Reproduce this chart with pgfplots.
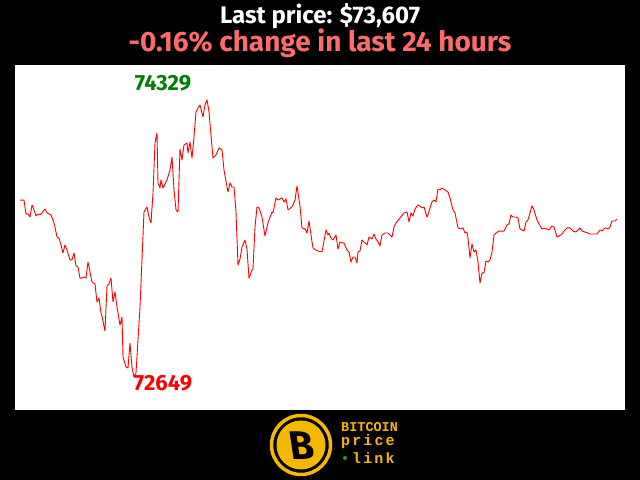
\documentclass[border=0pt]{standalone}
\usepackage{fontspec}
\setmainfont{Fira Sans}
\newfontfamily\logofont{Liberation Mono}
\newfontfamily\logowide[LetterSpace=14]{Liberation Mono}
\usepackage{pgfplots}
\usepackage{pgfplotstable}
\pgfplotsset{compat=1.18}
\definecolor{salmon}{HTML}{FF6B6B}
\definecolor{gold}{HTML}{F5B800}
\definecolor{hiGreen}{HTML}{008000}
\definecolor{dotGreen}{HTML}{1E9E1E}

% sample position (left to right over 24 h) and price in USD
\pgfplotstableread{
t price
20 73722
24 73722
26 73638
28 73638
30 73619
32 73692
33 73680
36 73625
38 73638
40 73632
42 73644
45 73668
47 73644
49 73638
51 73632
53 73601
55 73559
57 73498
59 73492
61 73450
63 73401
65 73450
67 73419
70 73359
72 73359
74 73401
76 73322
78 73316
80 73249
82 73249
84 73256
86 73249
88 73346
90 73286
92 73225
95 73213
97 73104
99 73128
101 73037
102 73019
105 72928
107 73201
109 73213
111 73249
113 73104
115 73165
117 73074
120 72964
122 73013
123 72770
126 72710
128 72704
130 72855
132 72710
134 72649
136 72673
140 73074
144 73650
147 73680
149 73619
151 73583
153 73765
155 74068
157 74129
158 73826
160 73795
161 73844
163 73795
167 73844
170 73904
172 73983
174 73783
176 73662
178 73650
180 74032
182 73965
184 74056
187 74068
188 74008
190 74074
192 73977
194 74105
196 74256
198 74280
200 74299
203 74226
205 74299
207 74329
209 74256
212 74044
213 73977
216 73995
219 74038
222 74026
224 73904
228 73771
230 73826
232 73801
234 73801
236 73650
238 73328
240 73365
242 73437
245 73480
247 73425
249 73249
252 73298
253 73304
255 73559
257 73680
259 73674
262 73619
265 73504
268 73583
272 73650
273 73644
276 73735
278 73722
282 73735
284 73710
286 73729
288 73662
292 73680
295 73722
297 73807
300 73686
302 73553
305 73547
307 73522
309 73595
312 73468
313 73431
316 73419
318 73413
322 73407
326 73541
328 73510
329 73522
331 73492
333 73480
336 73510
338 73425
340 73468
342 73462
344 73462
347 73419
349 73407
351 73346
353 73377
355 73377
357 73340
358 73407
360 73413
362 73480
364 73468
367 73450
369 73498
372 73486
374 73516
376 73486
378 73468
380 73444
382 73510
385 73522
388 73522
390 73510
392 73498
394 73559
396 73583
400 73613
404 73644
407 73650
409 73589
411 73644
413 73625
415 73668
418 73692
420 73686
422 73674
424 73680
427 73619
428 73632
430 73674
432 73710
434 73722
436 73710
438 73789
440 73783
442 73795
445 73783
448 73771
450 73735
453 73662
455 73644
458 73553
461 73547
463 73553
465 73522
467 73528
468 73492
470 73371
472 73456
474 73407
476 73419
478 73346
480 73219
482 73280
484 73280
486 73353
488 73346
490 73359
492 73407
494 73510
496 73522
499 73534
504 73534
507 73571
509 73577
511 73632
513 73619
516 73619
518 73613
520 73547
524 73534
526 73589
528 73601
530 73644
532 73686
534 73662
537 73601
539 73577
542 73547
544 73553
549 73541
552 73565
554 73559
557 73498
559 73504
562 73516
564 73534
567 73553
570 73553
573 73534
576 73528
578 73541
580 73553
582 73534
585 73528
588 73522
590 73516
597 73516
600 73541
602 73534
605 73553
608 73547
610 73559
612 73595
615 73595
617 73607
}\pricedata

\begin{document}
\begin{tikzpicture}[x=1bp,y=1bp]
% page background
\fill[black] (0,0) rectangle (640,480);

% headline
\node[white,inner sep=0pt,font=\fontsize{24bp}{26bp}\selectfont\bfseries] at (320,464) {Last price: \$73,607};
\node[salmon,inner sep=0pt,font=\fontsize{28bp}{30bp}\selectfont\bfseries] at (320,437) {-0.16\% change in last 24 hours};

\begin{axis}[
    at={(15bp,70bp)}, anchor=south west,
    width=610bp, height=345bp, scale only axis,
    xmin=15, xmax=625,
    ymin=72449, ymax=74541,
    axis line style={draw=none},
    xtick=\empty, ytick=\empty,
    axis background/.style={fill=white},
    clip=false,
]
    \addplot[color=red, line width=0.9bp, line join=round] table[x=t, y=price] {\pricedata};
    \node[hiGreen, font=\fontsize{22bp}{24bp}\selectfont\bfseries] at (axis cs:163,74432) {74329};
    \node[red, font=\fontsize{22bp}{24bp}\selectfont\bfseries] at (axis cs:163,72613) {72649};
\end{axis}

% logo
\draw[gold, line width=3.5bp] (301,35) circle (29.5);
\fill[gold] (301,35) circle (24.5);
\node[black, font=\fontsize{40bp}{40bp}\selectfont\bfseries, xslant=-0.15] at (302,34) {B};
\node[gold, anchor=west, inner sep=0pt, font=\logofont\bfseries\fontsize{13.5bp}{14bp}\selectfont] at (341,53) {BITCOIN};
\node[gold, anchor=west, inner sep=0pt, font=\logowide\bfseries\fontsize{15bp}{15bp}\selectfont] at (341,38) {price};
\fill[dotGreen] (345,22) circle (2);
\node[gold, anchor=west, inner sep=0pt, font=\logowide\bfseries\fontsize{15bp}{15bp}\selectfont] at (352,22) {link};
\end{tikzpicture}
\end{document}
